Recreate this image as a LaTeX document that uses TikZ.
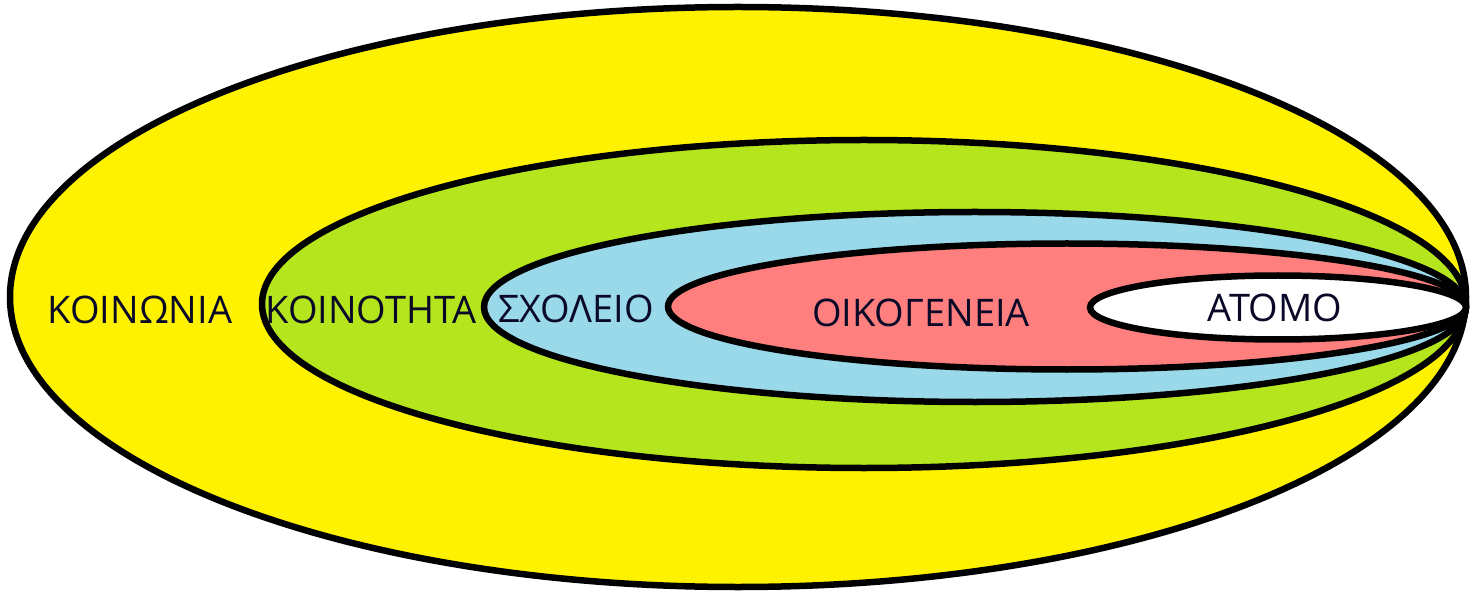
\documentclass[tikz,border=0pt]{standalone}
\usepackage{fontspec}
\setmainfont{Open Sans}
\definecolor{cyellow}{RGB}{255,242,0}
\definecolor{clime}{RGB}{181,230,29}
\definecolor{cblue}{RGB}{153,217,234}
\definecolor{cpink}{RGB}{255,127,127}
\definecolor{ctext}{RGB}{10,10,40}
\tikzset{
  ring/.style={draw=black, line width=6.5pt},
  lbl/.style={font=\fontsize{38}{44}\selectfont, text=ctext, inner sep=0pt, anchor=center}
}
\begin{document}
\begin{tikzpicture}[x=1pt,y=-1pt]
\useasboundingbox (0,0) rectangle (1474,593);
\path[ring, fill=cyellow] (738,297) ellipse [x radius=728, y radius=290];
\path[ring, fill=clime] (864,304) ellipse [x radius=602, y radius=164];
\path[ring, fill=cblue] (975,307) ellipse [x radius=491, y radius=95];
\path[ring, fill=cpink] (1067,306.5) ellipse [x radius=399, y radius=63];
\path[ring, fill=white] (1278,307.5) ellipse [x radius=188, y radius=32];
\node[lbl] (koinonia) at (140,310) {ΚΟΙΝΩΝΙΑ};
\node[lbl] (koinotita) at (371,310) {ΚΟΙΝΟΤΗΤΑ};
\node[lbl] (sxoleio) at (576,309) {ΣΧΟΛΕΙΟ};
\node[lbl] (oikogeneia) at (921,313) {ΟΙΚΟΓΕΝΕΙΑ};
\node[lbl] (atomo) at (1275,308) {ΑΤΟΜΟ};
\end{tikzpicture}
\end{document}
